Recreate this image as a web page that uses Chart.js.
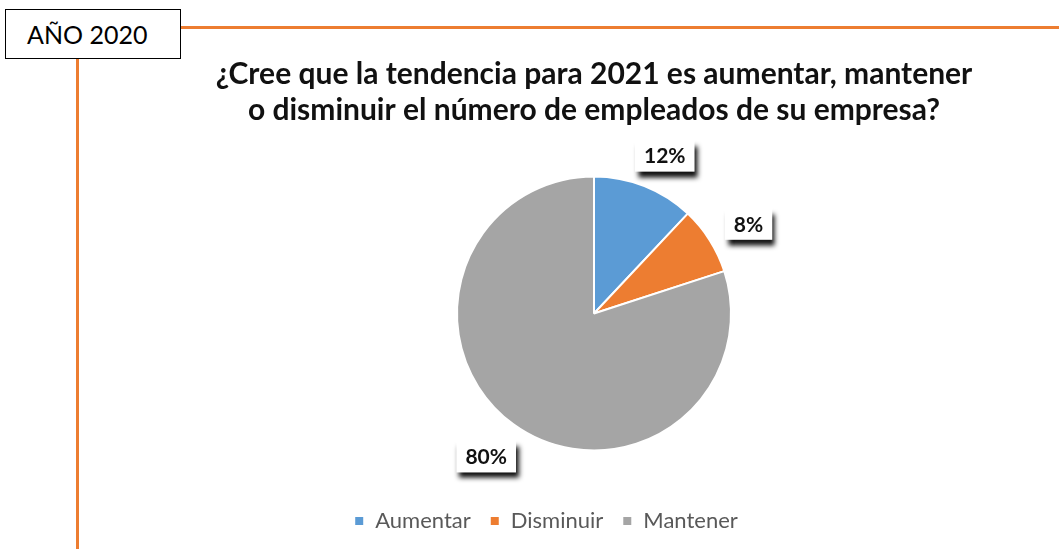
<!DOCTYPE html>
<html>
<head>
<meta charset="utf-8">
<script src="https://cdn.jsdelivr.net/npm/chart.js@4/dist/chart.umd.min.js"></script>
<style>
    html, body { margin: 0; padding: 0; background: #fff; }
    #page { position: relative; width: 1059px; height: 551px; overflow: hidden; }
    #yearBox {
        position: absolute; left: 5px; top: 9px; width: 176px; height: 50px;
        border: 1px solid #000; background: #fff; box-sizing: border-box;
        font-family: Lato, sans-serif; font-size: 25px; color: #000;
        line-height: 48px; padding-left: 21px;
    }
    #hLine { position: absolute; left: 181px; top: 26px; width: 878px; height: 3px; background: #ED7D31; }
    #vLine { position: absolute; left: 76px; top: 59px; width: 3px; height: 490px; background: #ED7D31; }
    #wrap { position: absolute; left: 0; top: 0; width: 1059px; height: 551px; }
</style>
</head>
<body>
<div id="page">
    <div id="hLine"></div>
    <div id="vLine"></div>
    <div id="yearBox">AÑO 2020</div>
    <div id="wrap"><canvas id="chart"></canvas></div>
</div>
<script>
const categories = ["Aumentar", "Disminuir", "Mantener"];
const percentages = [12, 8, 80];
const sliceColors = ["#5B9BD5", "#ED7D31", "#A5A5A5"];
const titleLines = [
    "¿Cree que la tendencia para 2021 es aumentar, mantener",
    "o disminuir el número de empleados de su empresa?"
];

// legend sits a bit left of the pie in the original
const legendShift = {
    id: "legendShift",
    afterLayout(chart) {
        chart.legend.left -= 48;
        chart.legend.right -= 48;
    }
};

// white boxes with a drop shadow, outside each slice
const boxLabels = {
    id: "boxLabels",
    afterDatasetsDraw(chart) {
        const ctx = chart.ctx;
        const meta = chart.getDatasetMeta(0);
        ctx.save();
        ctx.font = "bold 21px Lato, sans-serif";
        ctx.textAlign = "center";
        ctx.textBaseline = "middle";
        meta.data.forEach((arc, i) => {
            const p = arc.getProps(["x", "y", "startAngle", "endAngle", "outerRadius"], true);
            const mid = (p.startAngle + p.endAngle) / 2;
            const dx = Math.cos(mid), dy = Math.sin(mid);
            const text = percentages[i] + "%";
            const w = ctx.measureText(text).width + 18;
            const h = 32;
            const ax = p.x + dx * (p.outerRadius + 20);
            const ay = p.y + dy * (p.outerRadius + 20);
            const cx = ax + dx * w / 2 + 2;
            const cy = ay + dy * h / 2 + 3;
            ctx.shadowColor = "rgba(0,0,0,0.95)";
            ctx.shadowBlur = 5;
            ctx.shadowOffsetX = 3;
            ctx.shadowOffsetY = 6;
            ctx.fillStyle = "#fff";
            ctx.fillRect(cx - w / 2, cy - h / 2, w, h);
            ctx.shadowColor = "transparent";
            ctx.fillStyle = "#111";
            ctx.fillText(text, cx, cy + 1);
        });
        ctx.restore();
    }
};

new Chart(document.getElementById("chart"), {
    type: "pie",
    data: {
        labels: categories,
        datasets: [{
            data: percentages,
            backgroundColor: sliceColors,
            borderColor: "#fff",
            borderWidth: 2
        }]
    },
    options: {
        responsive: true,
        maintainAspectRatio: false,
        animation: false,
        radius: 137,
        layout: { padding: { left: 129, right: 0, top: 0, bottom: 9 } },
        plugins: {
            title: {
                display: true,
                text: titleLines,
                color: "#111",
                font: { family: "Lato, sans-serif", size: 30, weight: "bold", lineHeight: 1.2 },
                padding: { top: 56, bottom: 8 }
            },
            legend: {
                position: "bottom",
                labels: {
                    boxWidth: 10,
                    boxHeight: 10,
                    padding: 19,
                    color: "#595959",
                    font: { family: "Lato, sans-serif", size: 22 }
                }
            },
            tooltip: { enabled: false }
        }
    },
    plugins: [legendShift, boxLabels]
});
</script>
</body>
</html>
